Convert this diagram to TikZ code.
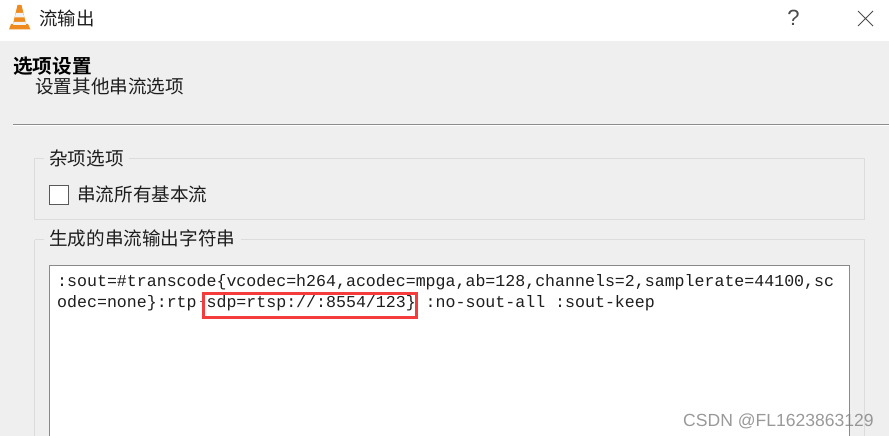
\documentclass[tikz,border=0pt]{standalone}
\usepackage{fontspec}
\newfontfamily\cjk{Noto Sans CJK SC}[BoldFont={Noto Sans CJK SC Bold}]
\newfontfamily\monof{Liberation Mono}
\setmainfont{Liberation Sans}
\definecolor{panel}{HTML}{EFEFEF}
\definecolor{grpline}{HTML}{DCDCDC}
\definecolor{boxline}{HTML}{8A8A8A}
\definecolor{redmark}{HTML}{F53C3C}
\definecolor{txt}{HTML}{1E1E1E}
\definecolor{cone}{HTML}{EE8A1E}
\tikzset{
  lbl/.style={inner sep=0pt,anchor=base west,text=txt,font=\fontsize{18.6}{20}\selectfont\cjk},
  mono/.style={inner sep=0pt,anchor=base west,text=txt,font=\fontsize{16.6}{18}\selectfont\monof},
  grp/.style={draw=grpline,line width=1pt}
}
\begin{document}
\begin{tikzpicture}[x=1pt,y=-1pt]
\useasboundingbox (0,0) rectangle (889,436);
\fill[white] (0,0) rectangle (889,41);
\fill[panel] (0,41) rectangle (889,436);
% cone icon
\fill[cone] (9,29.5) -- (11,24) -- (28,24) -- (30.5,29.5) -- cycle;
\fill[cone] (13,24) -- (17.5,5) -- (21.5,5) -- (26,24) -- cycle;
\fill[white!90!gray] (15.8,13) -- (23.2,13) -- (24.2,17.5) -- (14.8,17.5) -- cycle;
\fill[white!90!gray] (13.5,22) -- (25.5,22) -- (26,25) -- (13,25) -- cycle;
% title bar
\node[lbl,font=\fontsize{18.4}{20}\selectfont\cjk] (title) at (39,26) {流输出};
\node[inner sep=0pt,text=black!70,font=\fontsize{22}{24}\selectfont] (help) at (793.5,18) {?};
\coordinate (xa) at (858,11);\coordinate (xb) at (873,26);
\coordinate (xc) at (873,11);\coordinate (xd) at (858,26);
\draw[black!70,line width=1pt] (xa) -- (xb) (xc) -- (xd);
% heading
\node[lbl,font=\fontsize{19.6}{20}\selectfont\cjk\bfseries,text=black] (head) at (13,74) {选项设置};
\node[lbl] (sub) at (35,93) {设置其他串流选项};
\fill[white] (13,125) rectangle (889,126);
\draw[black!45,line width=1pt] (13,124.5) -- (889,124.5);
% group 1
\draw[grp] (34.5,158.5) rectangle (864.5,219.5);
\fill[panel] (44,150) rectangle (129,166);
\node[lbl] (g1) at (49,165) {杂项选项};
\node[draw=black!65,fill=white,line width=1pt,minimum width=19pt,minimum height=19pt,inner sep=0pt] (chk) at (59,194.5) {};
\node[lbl] (chkl) at (77,201) {串流所有基本流};
% group 2
\draw[grp] (34.5,239.5) -- (864.5,239.5) -- (864.5,436) (34.5,436) -- (34.5,239.5);
\fill[panel] (44,230) rectangle (241,248);
\node[lbl] (g2) at (49,245.5) {生成的串流输出字符串};
% text box
\fill[white] (49.5,265.5) rectangle (849.5,436);
\draw[boxline,line width=1pt] (49.5,436) -- (49.5,265.5) -- (849.5,265.5) -- (849.5,436);
\node[mono] (l1) at (57,286) {:sout=\#transcode\{vcodec=h264,acodec=mpga,ab=128,channels=2,samplerate=44100,sc};
\node[mono] (l2) at (57,307) {odec=none\}:rtp\phantom{\{}sdp=rtsp://:8554/123\} :no-sout-all :sout-keep};
\draw[black!60,line width=.8pt] (199.5,301) -- (202,301);
\draw[redmark,line width=3pt] (203.5,293) rectangle (416.5,317.5);
% watermark
\node[inner sep=0pt,anchor=base west,text=black!50,opacity=.8,font=\fontsize{17.55}{18}\selectfont] (wm) at (683,426) {CSDN @FL1623863129};
\end{tikzpicture}
\end{document}
